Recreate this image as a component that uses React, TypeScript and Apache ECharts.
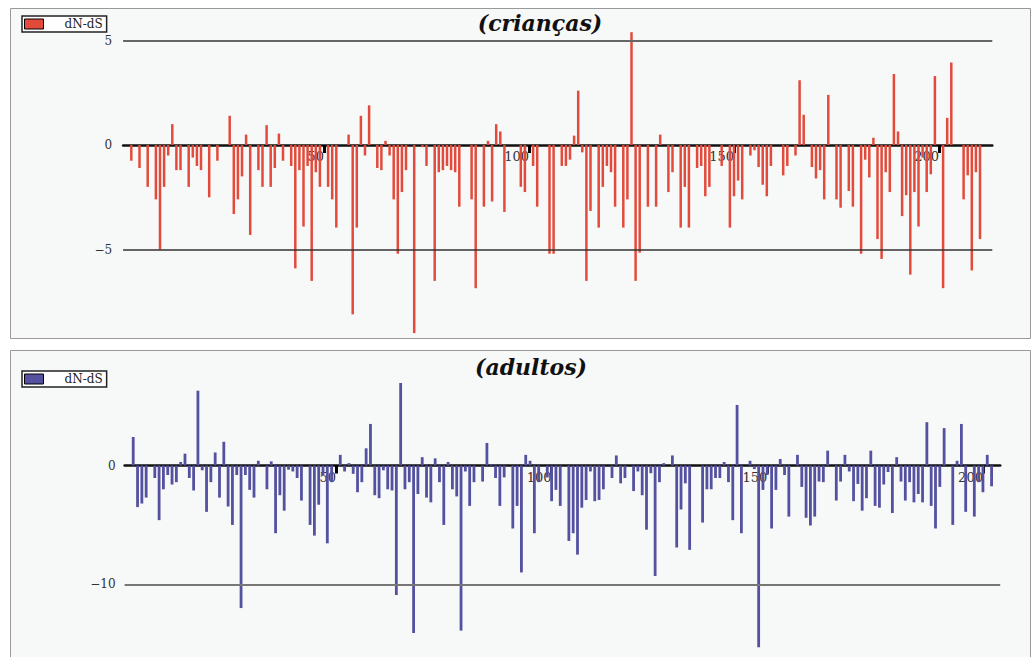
import React, { useEffect, useRef } from 'react';
import * as echarts from 'echarts';

const xTicks = [50, 100, 150, 200];

const criancasPos = [3, 5, 7, 9, 10, 11, 12, 13, 14, 15, 17, 18, 19, 20, 22, 24, 27, 28, 29, 30, 31, 32, 34, 35, 36, 37, 38, 39, 40, 42, 43, 44, 45, 46, 47, 48, 49, 51, 52, 53,
  56, 57, 58, 59, 60, 61, 63, 64, 65, 66, 67, 68, 69, 70, 72, 74, 75, 77, 78, 79, 80, 81, 82, 83, 86, 87, 89, 90, 91, 92, 93, 94, 98, 99, 101, 102, 105, 106,
  108, 109, 110, 111, 112, 113, 114, 115, 117, 118, 119, 120, 121, 123, 124, 125, 126, 127, 129, 131, 132, 134, 135, 137, 138, 139, 141, 142, 143, 144, 147, 149, 150, 151, 152, 154, 155, 156, 157, 158,
  159, 162, 163, 165, 166, 167, 169, 170, 171, 172, 173, 175, 176, 178, 179, 181, 182, 183, 184, 185, 186, 187, 188, 189, 190, 191, 192, 193, 194, 195, 196, 197, 198, 199, 201, 202, 203, 206, 207, 208, 209, 210];
const criancasVal = [-0.75, -1.1, -2.0, -2.6, -5.0, -2.0, -0.5, 1.0, -1.2, -1.2, -2.0, -0.6, -1.0, -1.2, -2.5, -0.75, 1.4, -3.3, -2.6, -1.5, 0.5, -4.3, -1.2, -2.0, 0.95, -2.0, -1.1, 0.55, -0.75, -1.0, -5.9, -1.2, -3.9, -1.0, -6.5, -1.3, -2.0, -2.0, -2.6, -3.95,
  0.5, -8.1, -3.95, 1.4, -0.5, 1.9, -1.1, -1.2, 0.2, -0.5, -2.6, -5.2, -2.25, -1.2, -9.0, -0.1, -1.0, -6.5, -1.3, -1.2, -1.0, -1.2, -1.3, -2.95, -2.6, -6.85, -2.95, 0.2, -2.7, 1.0, 0.65, -3.2, -2.0, -2.25, -1.0, -2.95, -5.2, -5.2,
  -1.0, -1.0, -0.7, 0.45, 2.6, -0.35, -6.5, -3.15, -3.95, -2.0, -1.0, -1.3, -2.95, -3.95, -2.6, 5.4, -6.5, -5.15, -2.95, -2.95, 0.5, -2.25, -1.3, -3.95, -2.0, -3.95, -1.1, -1.0, -2.45, -2.0, -1.0, -3.95, -2.45, -1.7, -2.6, -0.5, -0.25, -1.05, -1.9, -2.45,
  -1.0, -1.45, -1.0, -0.5, 3.1, 1.45, -1.05, -1.6, -1.2, -2.6, 2.4, -2.6, -3.0, -2.2, -2.95, -5.2, -0.7, -1.55, 0.35, -4.5, -5.45, -1.3, -2.25, 3.4, 0.65, -3.4, -2.4, -6.2, -2.25, -3.9, -0.6, -2.25, -1.4, 3.3, -6.85, 1.3, 3.95, -2.6, -1.45, -6.0, -1.3, -4.5];

const adultosPos = [3, 4, 5, 6, 8, 9, 10, 11, 12, 13, 14, 15, 16, 17, 18, 19, 20, 21, 22, 23, 24, 25, 26, 27, 28, 29, 30, 31, 32, 34, 35, 36, 37, 38, 39, 40, 41, 42, 44, 45, 46, 47, 48, 49,
  51, 52, 53, 54, 55, 56, 57, 58, 59, 60, 61, 62, 63, 64, 65, 66, 67, 68, 69, 70, 71, 72, 73, 74, 75, 76, 77, 78, 79, 80, 81, 82, 84, 85, 86, 87, 88, 89, 91, 92, 93, 94, 95, 96, 97, 99,
  100, 101, 102, 104, 105, 106, 107, 108, 109, 110, 111, 112, 114, 115, 116, 117, 119, 120, 121, 122, 123, 124, 125, 126, 128, 129, 130, 131, 132, 135, 136, 137, 138, 139, 140, 141, 142, 143, 144, 146, 147, 148, 149,
  150, 151, 152, 153, 154, 155, 157, 158, 159, 160, 161, 162, 163, 164, 166, 167, 168, 169, 170, 171, 172, 173, 174, 175, 176, 177, 178, 179, 180, 181, 182, 183, 184, 185, 186, 187, 188, 189, 190, 191, 193, 194, 195, 196, 198, 199, 200, 201, 202];
const adultosVal = [2.4, -3.5, -3.2, -2.7, -1.05, -4.6, -2.0, -0.8, -1.6, -1.4, 0.3, 1.0, -1.05, -2.1, 6.3, -0.4, -3.9, -1.4, 1.1, -2.7, 2.0, -3.45, -5.0, -0.8, -12.0, -0.8, -2.05, -2.7, 0.4, -2.0, 0.35, -5.7, -2.5, -3.8, -0.35, -0.5, -1.05, -2.95, -5.0, -5.9, -3.3, -0.8, -6.55, -1.4,
  0.9, -0.5, 0.2, -0.7, -2.25, -1.4, 1.45, 3.5, -2.5, -2.75, -0.4, -2.0, -2.1, -10.9, 6.95, -2.0, -1.4, -14.1, -2.4, 0.7, -2.7, -3.1, 0.6, -1.4, -5.0, 0.3, -2.0, -2.6, -13.9, -0.5, -3.4, -1.4, -1.35, 1.9, 0.1, -1.05, -3.4, -1.0, -5.3, -3.4, -9.0, 0.9, 0.4, -5.7, -1.4, -1.0,
  -3.0, -2.05, -3.4, -6.35, -5.7, -7.5, -3.55, -2.9, -0.5, -3.0, -2.9, -2.0, -1.05, 0.85, -1.5, -1.05, -2.15, -0.5, -2.5, -5.4, -0.65, -9.3, -1.4, 0.2, 0.85, -6.9, -3.7, -1.5, -7.1, -4.8, -2.0, -2.0, -1.05, -1.05, 0.3, -1.4, -4.6, 5.1, -5.7, 0.4, -0.3, -15.3, -2.05,
  -0.8, -5.3, -2.05, 0.55, -0.8, -4.3, 0.9, -1.8, -4.4, -5.05, -4.3, -1.35, -1.4, 1.25, -2.95, -1.35, 0.9, -0.5, -3.0, -1.55, -3.8, -2.75, 1.25, -3.4, -3.55, -1.6, -0.55, -4.0, 0.7, -1.35, -2.95, -1.4, -3.1, -2.4, -3.1, 3.65, -3.4, -5.3, -1.8, 3.15, -5.0, 0.4, 3.5, -3.9, -4.3, -1.4, -2.25, 0.9, -1.75];

const criancasYTicks = [-5, 0, 5];
const adultosYTicks = [-10, 0];
const criancasRefLines = [5, -5];
const adultosRefLines = [-10];

const SERIF = 'DejaVu Serif';
const fmtNum = (v: number) => (v < 0 ? '\u2212' + Math.abs(v) : String(v));

// grid geometry (pixels) and y ranges
const G1 = { left: 123.1, top: 28, width: 869.2, height: 313.5, yMin: -9.4, yMax: 5.6 };
const G2 = { left: 124.6, top: 380, width: 875.6, height: 273.2, yMin: -15.8, yMax: 7.2 };
const zeroOffset = (g: typeof G1) => -(g.height * (0 - g.yMin)) / (g.yMax - g.yMin);

export default function App() {
  const ref = useRef<HTMLDivElement>(null);
  useEffect(() => {
    const chart = echarts.init(ref.current!, null, { renderer: 'svg' });
    const xAxisBase = (min: number, max: number, gi: number, offset: number) => ({
      type: 'value', gridIndex: gi, min, max, position: 'bottom', offset,
      axisLine: { onZero: false, lineStyle: { color: '#111', width: 2.5 } },
      axisTick: { customValues: xTicks, length: 8, lineStyle: { color: '#000', width: 3 } },
      axisLabel: { customValues: xTicks, align: 'right', margin: 5, fontFamily: SERIF, fontSize: 13, color: '#333' },
      splitLine: { show: false },
    });
    const yAxisBase = (g: typeof G1, gi: number, ticks: number[], margin: number) => ({
      type: 'value', gridIndex: gi, min: g.yMin, max: g.yMax,
      axisLine: { show: false }, axisTick: { show: false }, splitLine: { show: false },
      axisLabel: { customValues: ticks, formatter: fmtNum, margin, fontFamily: SERIF, fontSize: 12, color: '#333', verticalAlign: 'middle', padding: [0, 0, 8, 0] },
    });
    const legendBase = (name: string, top: number) => ({
      data: [{ name, icon: 'rect' }], left: 22, top, orient: 'horizontal',
      padding: [2, 4, 2, 2], itemWidth: 19, itemHeight: 10, itemGap: 0,
      borderColor: '#222', borderWidth: 1.5, backgroundColor: '#fff', borderRadius: 0,
      formatter: () => 'dN-dS',
      itemStyle: { borderColor: '#000', borderWidth: 1 },
      textStyle: { fontFamily: SERIF, fontSize: 12, color: '#222', padding: [0, 0, 0, 16] },
    });
    chart.setOption({
      animation: false,
      backgroundColor: '#ffffff',
      graphic: [
        { type: 'rect', z: -100, shape: { x: 10.5, y: 8.5, width: 1020, height: 330 }, style: { fill: '#f7f8f8', stroke: '#999', lineWidth: 1 } },
        { type: 'rect', z: -100, shape: { x: 10.5, y: 350.5, width: 1020, height: 320 }, style: { fill: '#f7f8f8', stroke: '#999', lineWidth: 1 } },
      ],
      title: [
        { text: '(crianças)', left: 540, top: 12, padding: 0, textAlign: 'center', textStyle: { fontFamily: SERIF, fontStyle: 'italic', fontWeight: 'bold', fontSize: 22, color: '#111' } },
        { text: '(adultos)', left: 531, top: 356, padding: 0, textAlign: 'center', textStyle: { fontFamily: SERIF, fontStyle: 'italic', fontWeight: 'bold', fontSize: 22, color: '#111' } },
      ],
      legend: [legendBase('dN-dS (crianças)', 16), legendBase('dN-dS (adultos)', 371)],
      grid: [
        { left: G1.left, top: G1.top, width: G1.width, height: G1.height, containLabel: false },
        { left: G2.left, top: G2.top, width: G2.width, height: G2.height, containLabel: false },
      ],
      xAxis: [xAxisBase(1, 213, 0, zeroOffset(G1)), xAxisBase(1, 204, 1, zeroOffset(G2))],
      yAxis: [yAxisBase(G1, 0, criancasYTicks, 11), yAxisBase(G2, 1, adultosYTicks, 9)],
      series: [
        {
          name: 'dN-dS (crianças)', type: 'bar', xAxisIndex: 0, yAxisIndex: 0, barWidth: 2.5,
          itemStyle: { color: '#e24b3c' },
          data: criancasPos.map((p, i) => [p, criancasVal[i]]),
          markLine: {
            silent: true, symbol: ['none', 'none'], label: { show: false },
            data: criancasRefLines.map((v) => ({ yAxis: v, lineStyle: { type: 'solid', color: v > 0 ? '#666' : '#333', width: v > 0 ? 2.2 : 1.6 } })),
          },
        },
        {
          name: 'dN-dS (adultos)', type: 'bar', xAxisIndex: 1, yAxisIndex: 1, barWidth: 2.8,
          itemStyle: { color: '#5451a1' },
          data: adultosPos.map((p, i) => [p, adultosVal[i]]),
          markLine: {
            silent: true, symbol: ['none', 'none'], label: { show: false },
            data: adultosRefLines.map((v) => ({ yAxis: v, lineStyle: { type: 'solid', color: '#777', width: 2 } })),
          },
        },
      ],
    });
    return () => chart.dispose();
  }, []);
  return <div ref={ref} style={{ position: 'fixed', left: 0, top: 0, width: 1032, height: 657, background: '#fff' }} />;
}
